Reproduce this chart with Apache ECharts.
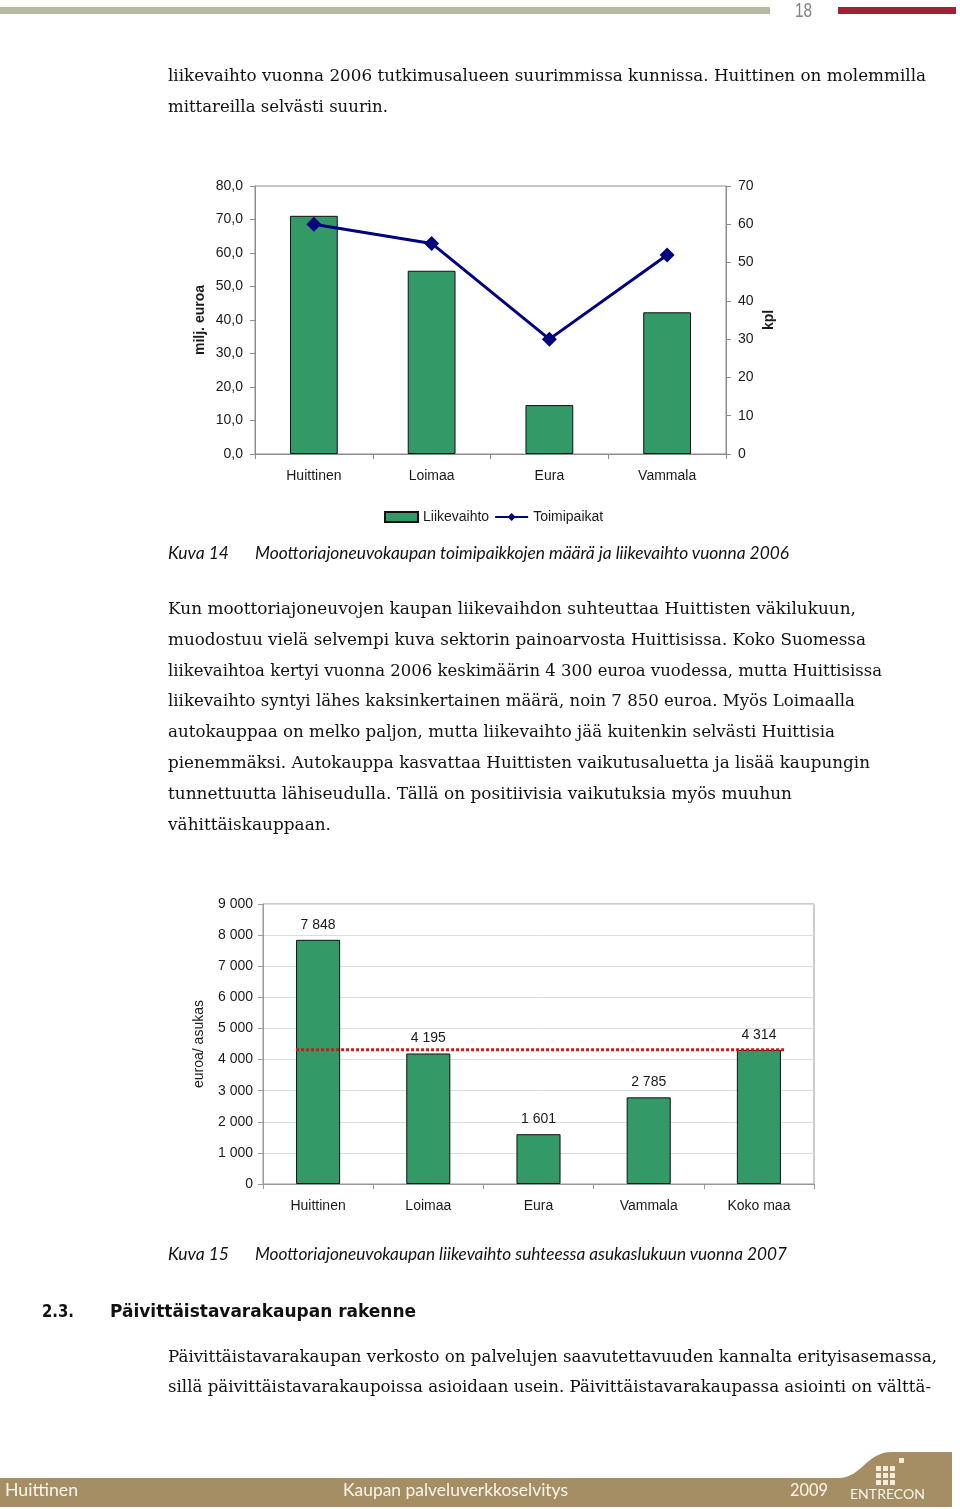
<!DOCTYPE html>
<html>
<head>
<meta charset="utf-8">
<script src="https://cdn.jsdelivr.net/npm/echarts@6/dist/echarts.min.js"></script>
<style>
  html, body { margin:0; padding:0; background:#fff; }
  #page { position:relative; width:960px; height:1509px; overflow:hidden; background:#fff; }
  #chart { position:absolute; left:0; top:0; width:960px; height:1509px; }
  .ln { position:absolute; white-space:nowrap; line-height:1; transform-origin:0 50%; z-index:5; }
  .deco { position:absolute; z-index:4; }
</style>
</head>
<body>
<div id="page">
  <div id="chart"></div>
</div>
<script>
// ---------------- data ----------------
var categories1 = ['Huittinen', 'Loimaa', 'Eura', 'Vammala'];
var liikevaihto = [71.1, 54.7, 14.6, 42.3];      // milj. euroa
var toimipaikat = [60, 55, 30, 52];              // kpl
var leftTicks1 = [0, 80, 10];                    // min, max, interval
var rightTicks1 = [0, 70, 10];

var categories2 = ['Huittinen', 'Loimaa', 'Eura', 'Vammala', 'Koko maa'];
var perAsukas = [7848, 4195, 1601, 2785, 4314];  // euroa / asukas
var ticks2 = [0, 9000, 1000];
var kokoMaaIndex = 4;

// ---------------- text lines ----------------
var SERIF = '"DejaVu Serif", "Liberation Serif", serif';
var HUM = 'Lato, "Open Sans", sans-serif';
var SANS = '"Liberation Sans", Arial, sans-serif';
var textLines = [
  {t:'liikevaihto vuonna 2006 tutkimusalueen suurimmissa kunnissa. Huittinen on molemmilla', x:168, y:76, w:758, f:SERIF, s:17},
  {t:'mittareilla selvästi suurin.', x:168, y:107, w:220, f:SERIF, s:17},

  {t:'Kuva 14', x:168, y:553, w:61, f:HUM, s:18, it:1},
  {t:'Moottoriajoneuvokaupan toimipaikkojen määrä ja liikevaihto vuonna 2006', x:255, y:553, w:534, f:HUM, s:18, it:1},

  {t:'Kun moottoriajoneuvojen kaupan liikevaihdon suhteuttaa Huittisten väkilukuun,', x:168, y:609, w:688, f:SERIF, s:17},
  {t:'muodostuu vielä selvempi kuva sektorin painoarvosta Huittisissa. Koko Suomessa', x:168, y:640, w:698, f:SERIF, s:17},
  {t:'liikevaihtoa kertyi vuonna 2006 keskimäärin 4 300 euroa vuodessa, mutta Huittisissa', x:168, y:671, w:714, f:SERIF, s:17},
  {t:'liikevaihto syntyi lähes kaksinkertainen määrä, noin 7 850 euroa. Myös Loimaalla', x:168, y:701, w:687, f:SERIF, s:17},
  {t:'autokauppaa on melko paljon, mutta liikevaihto jää kuitenkin selvästi Huittisia', x:168, y:732, w:667, f:SERIF, s:17},
  {t:'pienemmäksi. Autokauppa kasvattaa Huittisten vaikutusaluetta ja lisää kaupungin', x:168, y:763, w:702, f:SERIF, s:17},
  {t:'tunnettuutta lähiseudulla. Tällä on positiivisia vaikutuksia myös muuhun', x:168, y:794, w:624, f:SERIF, s:17},
  {t:'vähittäiskauppaan.', x:168, y:825, w:163, f:SERIF, s:17},

  {t:'Kuva 15', x:168, y:1254, w:61, f:HUM, s:18, it:1},
  {t:'Moottoriajoneuvokaupan liikevaihto suhteessa asukaslukuun vuonna 2007', x:255, y:1254, w:532, f:HUM, s:18, it:1},

  {t:'2.3.', x:42, y:1312, w:32, f:'"DejaVu Sans", sans-serif', s:18, b:1},
  {t:'Päivittäistavarakaupan rakenne', x:110, y:1312, w:306, f:'"DejaVu Sans", sans-serif', s:18, b:1},

  {t:'Päivittäistavarakaupan verkosto on palvelujen saavutettavuuden kannalta erityisasemassa,', x:168, y:1357, w:769, f:SERIF, s:17},
  {t:'sillä päivittäistavarakaupoissa asioidaan usein. Päivittäistavarakaupassa asiointi on välttä-', x:168, y:1387, w:763, f:SERIF, s:17},

  {t:'18', x:795, y:11, w:17, f:SANS, s:20, c:'#808080'},

  {t:'Huittinen', x:5, y:1490, w:73, f:HUM, s:18, c:'#fbf6ea'},
  {t:'Kaupan palveluverkkoselvitys', x:343, y:1490, w:225, f:HUM, s:18, c:'#fbf6ea'},
  {t:'2009', x:790, y:1490, w:38, f:HUM, s:18, c:'#fbf6ea'},
  {t:'ENTRECON', x:850, y:1495, w:75, f:HUM, s:14, c:'#fbf6ea'}
];

var page = document.getElementById('page');

// decorations (header bars, footer band, logo)
function deco(style) {
  var d = document.createElement('div');
  d.className = 'deco';
  for (var k in style) d.style[k] = style[k];
  page.appendChild(d);
  return d;
}
deco({left:'0px', top:'7px', width:'770px', height:'7px', background:'#b7b8a1'});
deco({left:'838px', top:'7px', width:'118px', height:'7px', background:'#9c2434'});

var svgNS = 'http://www.w3.org/2000/svg';
var svg = document.createElementNS(svgNS, 'svg');
svg.setAttribute('width', '960'); svg.setAttribute('height', '1509');
svg.style.position = 'absolute'; svg.style.left = '0'; svg.style.top = '0'; svg.style.zIndex = '4';
var path = document.createElementNS(svgNS, 'path');
path.setAttribute('d', 'M0 1478 L838 1478 C862 1478 866 1452 892 1452 L952 1452 L952 1507 L0 1507 Z');
path.setAttribute('fill', '#a68e64');
svg.appendChild(path);
// logo squares
var sq = [[876,1466],[883,1466],[890,1466],[876,1473],[883,1473],[890,1473],[876,1480],[883,1480],[890,1480],[899,1458]];
sq.forEach(function (p) {
  var r = document.createElementNS(svgNS, 'rect');
  r.setAttribute('x', p[0]); r.setAttribute('y', p[1]);
  r.setAttribute('width', 5); r.setAttribute('height', 5);
  r.setAttribute('fill', '#f4eddb');
  svg.appendChild(r);
});
page.appendChild(svg);

var lineEls = [];
textLines.forEach(function (L) {
  var d = document.createElement('div');
  d.className = 'ln';
  d.textContent = L.t;
  d.style.left = L.x + 'px';
  d.style.top = (L.y - L.s * 0.55) + 'px';
  d.style.fontFamily = L.f;
  d.style.fontSize = L.s + 'px';
  d.style.color = L.c || '#111';
  if (L.it) d.style.fontStyle = 'italic';
  if (L.b) d.style.fontWeight = 'bold';
  page.appendChild(d);
  lineEls.push([d, L]);
});
function fit() {
  lineEls.forEach(function (p) {
    var d = p[0], L = p[1];
    d.style.transform = 'none';
    var w = d.getBoundingClientRect().width;
    if (w > 0) d.style.transform = 'scaleX(' + (L.w / w) + ')';
  });
}
fit();
if (document.fonts && document.fonts.ready) document.fonts.ready.then(fit);

// ---------------- chart ----------------
function comma1(v) { return v.toFixed(1).replace('.', ','); }
function spaced(v) { return String(v).replace(/\B(?=(\d{3})+(?!\d))/g, ' '); }

var labelFont = { fontFamily: SANS, fontSize: 14, color: '#1a1a1a' };
var axisGray = '#8c8c8c';

var chart = echarts.init(document.getElementById('chart'), null, { renderer: 'canvas' });
var option = {
  animation: false,
  backgroundColor: '#ffffff',
  textStyle: { fontFamily: SANS },
  legend: {
    left: 379, top: 505,
    itemWidth: 33, itemHeight: 10, itemGap: 5,
    textStyle: { fontFamily: SANS, fontSize: 14, color: '#1a1a1a' },
    data: [
      { name: 'Liikevaihto', icon: 'rect' },
      { name: 'Toimipaikat' }
    ]
  },
  grid: [
    { left: 255, top: 186, width: 471, height: 268, show: true, borderColor: axisGray, borderWidth: 1, containLabel: false },
    { left: 263, top: 904, width: 551, height: 280, show: true, borderColor: '#999', borderWidth: 1, containLabel: false }
  ],
  xAxis: [
    {
      type: 'category', gridIndex: 0, data: categories1,
      axisLine: { lineStyle: { color: axisGray } },
      axisTick: { show: true, alignWithLabel: false, length: 5, lineStyle: { color: axisGray } },
      axisLabel: Object.assign({ margin: 15, interval: 0 }, labelFont)
    },
    {
      type: 'category', gridIndex: 1, data: categories2,
      axisLine: { lineStyle: { color: '#999' } },
      axisTick: { show: true, alignWithLabel: false, length: 5, lineStyle: { color: '#999' } },
      axisLabel: Object.assign({ margin: 15, interval: 0 }, labelFont)
    },
    {
      type: 'value', gridIndex: 1, show: false, min: -0.5, max: categories2.length - 0.5
    }
  ],
  yAxis: [
    {
      type: 'value', gridIndex: 0, min: leftTicks1[0], max: leftTicks1[1], interval: leftTicks1[2],
      name: 'milj. euroa', nameLocation: 'middle', nameGap: 48, nameRotate: 90,
      nameTextStyle: { fontFamily: SANS, fontSize: 14, fontWeight: 'bold', color: '#1a1a1a' },
      axisLine: { show: true, onZero: false, lineStyle: { color: axisGray } },
      axisTick: { show: true, length: 5, lineStyle: { color: axisGray } },
      splitLine: { show: false },
      axisLabel: Object.assign({ margin: 12, formatter: comma1 }, labelFont)
    },
    {
      type: 'value', gridIndex: 0, position: 'right', min: rightTicks1[0], max: rightTicks1[1], interval: rightTicks1[2],
      name: 'kpl', nameLocation: 'middle', nameGap: 36, nameRotate: 90,
      nameTextStyle: { fontFamily: SANS, fontSize: 14, fontWeight: 'bold', color: '#1a1a1a' },
      axisLine: { show: true, onZero: false, lineStyle: { color: axisGray } },
      axisTick: { show: true, length: 5, lineStyle: { color: axisGray } },
      splitLine: { show: false },
      axisLabel: Object.assign({ margin: 12 }, labelFont)
    },
    {
      type: 'value', gridIndex: 1, min: ticks2[0], max: ticks2[1], interval: ticks2[2],
      name: 'euroa/ asukas', nameLocation: 'middle', nameGap: 57, nameRotate: 90,
      nameTextStyle: { fontFamily: SANS, fontSize: 14, color: '#1a1a1a' },
      axisLine: { show: true, onZero: false, lineStyle: { color: '#999' } },
      axisTick: { show: true, length: 5, lineStyle: { color: '#999' } },
      splitLine: { show: true, lineStyle: { color: '#dcdcdc' } },
      axisLabel: Object.assign({ margin: 10, formatter: spaced }, labelFont)
    }
  ],
  series: [
    {
      name: 'Liikevaihto', type: 'bar', xAxisIndex: 0, yAxisIndex: 0,
      data: liikevaihto, barWidth: '40.6%',
      itemStyle: { color: '#339966', borderColor: '#111', borderWidth: 1 }
    },
    {
      name: 'Toimipaikat', type: 'line', xAxisIndex: 0, yAxisIndex: 1,
      data: toimipaikat, symbol: 'diamond', symbolSize: 15,
      lineStyle: { color: '#000080', width: 3 },
      itemStyle: { color: '#000080' }, z: 5
    },
    {
      name: 'Per asukas', type: 'bar', xAxisIndex: 1, yAxisIndex: 2,
      data: perAsukas, barWidth: '40%',
      itemStyle: { color: '#339966', borderColor: '#111', borderWidth: 1 },
      label: { show: true, position: 'top', distance: 8, formatter: function (p) { return spaced(p.value); },
        fontFamily: SANS, fontSize: 14, color: '#1a1a1a' }
    },
    {
      name: 'Koko maa', type: 'line', xAxisIndex: 2, yAxisIndex: 2,
      data: [[-0.2, perAsukas[kokoMaaIndex]], [kokoMaaIndex + 0.23, perAsukas[kokoMaaIndex]]],
      symbol: 'none', z: 6,
      lineStyle: { color: '#cc1a1a', width: 3, type: [3, 2] }
    }
  ]
};
chart.setOption(option);
</script>
</body>
</html>
